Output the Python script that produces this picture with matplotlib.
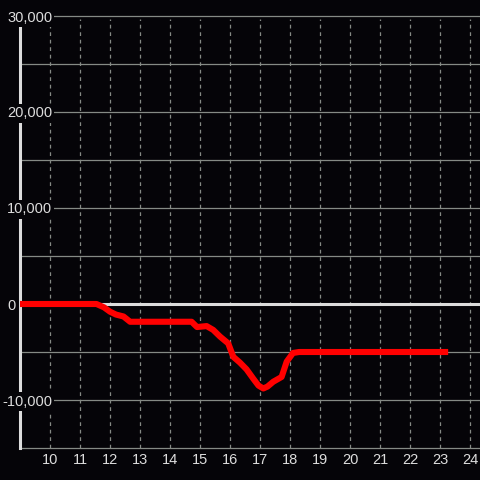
import matplotlib as mpl
import matplotlib.pyplot as plt
import matplotlib.transforms as mtransforms

mpl.rcParams['font.family'] = ['Liberation Sans', 'DejaVu Sans']

bg = '#050408'
txt = '#dddddd'
grid_col = '#858a85'

# series
xs = [9.0, 10.0, 11.0, 11.55, 11.8, 12.0, 12.2, 12.45, 12.67, 13.5, 14.72,
      14.9, 15.22, 15.44, 15.67, 15.94, 16.11, 16.33, 16.55, 16.78, 16.95,
      17.11, 17.25, 17.44, 17.72, 17.89, 18.1, 18.3, 20.0, 23.17]
ys = [0, 0, 0, 0, -350, -800, -1100, -1300, -1850, -1850, -1850,
      -2400, -2300, -2700, -3400, -4100, -5500, -6100, -6800, -7800, -8500,
      -8800, -8600, -8100, -7600, -6000, -5100, -5000, -5000, -5000]

xticks = list(range(10, 25))
yticks = [30000, 20000, 10000, 0, -10000]
ylabels = ['30,000', '20,000', '10,000', '0', '-10,000']

fig = plt.figure(figsize=(4.8, 4.8), dpi=100, facecolor=bg)
ax = fig.add_axes([20 / 480, 32 / 480, 460 / 480, 432 / 480], facecolor=bg)
ax.set_xlim(9, 24.333)
ax.set_ylim(-15000, 30000)

for s in ['top', 'right', 'bottom']:
    ax.spines[s].set_visible(False)
ax.spines['left'].set_color(txt)
ax.spines['left'].set_linewidth(2.2)
ax.tick_params(left=False, bottom=False, labelleft=False, labelbottom=False)

# grid
for v in range(-15000, 30001, 5000):
    if v == 0:
        continue
    ax.axhline(v, color=grid_col, lw=0.9, zorder=1, clip_on=False)
for t in xticks:
    ax.axvline(t, ymax=0.994, color=grid_col, lw=0.9, ls=(0, (3, 3)), zorder=1)
ax.axhline(0, color=txt, lw=2.2, zorder=2)

ax.plot(xs, ys, color='#ff0000', lw=4.4, solid_capstyle='projecting',
        solid_joinstyle='round', zorder=4)

# tick labels
offset = ax.transData + mtransforms.ScaledTranslation(0, -5 / 100, fig.dpi_scale_trans)
for t in xticks:
    ax.text(t, -15000, str(t), transform=offset, ha='center', va='top',
            color=txt, fontsize=10.5)

trans = mtransforms.blended_transform_factory(fig.transFigure, ax.transData)
for v, lab in zip(yticks, ylabels):
    x0 = 7 / 480 if v >= 0 else 2 / 480
    ax.text(x0, v, lab, transform=trans, ha='left', va='center_baseline',
            color=txt, fontsize=10.5, zorder=5,
            bbox=dict(facecolor=bg, edgecolor='none', pad=1.5))

fig.savefig('out.png', dpi=100, facecolor=bg)
